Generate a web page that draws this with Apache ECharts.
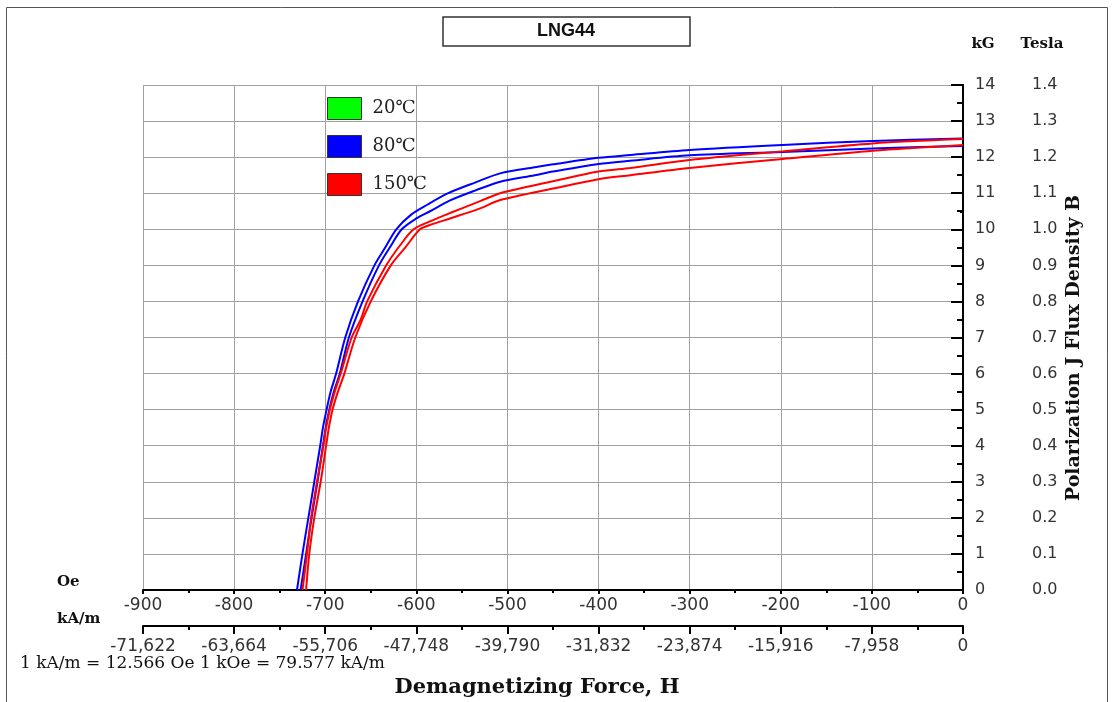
<!DOCTYPE html>
<html>
<head>
<meta charset="utf-8">
<script src="https://cdn.jsdelivr.net/npm/echarts@6/dist/echarts.min.js"></script>
<style>
  html, body { margin: 0; padding: 0; background: #fff; }
  #chart { width: 1114px; height: 702px; }
</style>
</head>
<body>
<div id="chart"></div>
<script>
// 图例名称
var legendNames = ['20℃', '80℃', '150℃'];
// kA/m 刻度标签 (第二条横轴)
var kamLabels = ['-71,622', '-63,664', '-55,706', '-47,748', '-39,790', '-31,832', '-23,874', '-15,916', '-7,958', '0'];

// 80℃ 上曲线 (J)
var hJ80 = [-731, -725, -718.5, -712, -705.5, -702.5, -698.5, -694, -688, -678, -664, -646, -634, -622, -606, -588, -565, -535, -508, -470, -450, -400, -365, -300, -198, -99, 0];
var bJ80 = [0, 1, 2, 3, 4, 4.5, 5, 5.5, 6, 7, 8, 9, 9.5, 10, 10.4, 10.68, 11.0, 11.3, 11.55, 11.72, 11.8, 11.98, 12.06, 12.2, 12.34, 12.45, 12.52];
// 80℃ 下曲线 (B)
var hB80 = [-727, -721, -715, -708.5, -702.5, -699.5, -695.5, -690.5, -684, -674, -659, -641, -629, -616, -600, -585, -563, -535, -508, -470, -450, -400, -365, -300, -198, -99, 0];
var bB80 = [0, 1, 2, 3, 4, 4.5, 5, 5.5, 6, 7, 8, 9, 9.5, 10, 10.3, 10.5, 10.8, 11.08, 11.32, 11.5, 11.6, 11.81, 11.9, 12.05, 12.14, 12.24, 12.31];
// 150℃ 上曲线 (J)
var hJ150 = [-725, -720, -715.5, -709, -702, -699, -695, -689.5, -683, -671, -661, -654, -633, -618, -603, -585, -563, -530, -508, -450, -400, -365, -300, -198, -99, 0];
var bJ150 = [0, 1, 2, 3, 4, 4.5, 5, 5.5, 6, 7, 7.5, 8, 9, 9.55, 10, 10.22, 10.45, 10.78, 11.0, 11.33, 11.6, 11.7, 11.92, 12.16, 12.38, 12.5];
// 150℃ 下曲线 (B)
var hB150 = [-721, -717.5, -712, -705, -699, -696, -692, -686, -679, -667, -650, -628, -612, -596, -585, -563, -530, -508, -450, -400, -365, -300, -198, -99, 0];
var bB150 = [0, 1, 2, 3, 4, 4.5, 5, 5.5, 6, 7, 8, 9, 9.5, 10, 10.12, 10.3, 10.58, 10.81, 11.13, 11.39, 11.5, 11.7, 11.95, 12.18, 12.34];

function pairs(h, b) {
    return h.map(function (x, i) { return [x, b[i]]; });
}

var serif = '"DejaVu Serif", "Liberation Serif", serif';
var sans = '"DejaVu Sans", "Liberation Sans", sans-serif';

var myChart = echarts.init(document.getElementById('chart'));

function curve(name, color, h, b) {
    return {
        name: name,
        type: 'line',
        symbol: 'none',
        smooth: 0.3,
        data: pairs(h, b),
        lineStyle: { color: color, width: 2 },
        itemStyle: { color: color }
    };
}

myChart.setOption({
    animation: false,
    grid: { left: 143, right: 151, top: 85, bottom: 112 },
    legend: {
        data: legendNames,
        orient: 'vertical',
        left: 322,
        top: 92,
        icon: 'rect',
        itemWidth: 34,
        itemHeight: 22,
        itemGap: 15,
        itemStyle: { borderColor: '#333', borderWidth: 1 },
        textStyle: { fontFamily: serif, fontSize: 18, color: '#222', padding: [0, 0, 0, 6] }
    },
    xAxis: [
        {
            type: 'value',
            min: -900, max: 0, interval: 100,
            position: 'bottom',
            axisLine: { onZero: false, lineStyle: { color: '#000', width: 2 } },
            axisTick: { length: 4, lineStyle: { color: '#000', width: 2 } },
            minorTick: { show: true, splitNumber: 2, length: 3, lineStyle: { color: '#000', width: 2 } },
            splitLine: { show: true, lineStyle: { color: '#a0a0a0', width: 1 } },
            axisLabel: { fontFamily: sans, fontSize: 17, color: '#333', margin: 7 }
        },
        {
            type: 'value',
            min: -900, max: 0, interval: 100,
            position: 'bottom',
            offset: 36,
            axisLine: { onZero: false, lineStyle: { color: '#000', width: 2 } },
            axisTick: { length: 8, lineStyle: { color: '#000', width: 2 } },
            minorTick: { show: true, splitNumber: 2, length: 4, lineStyle: { color: '#000', width: 2 } },
            splitLine: { show: false },
            axisLabel: {
                fontFamily: sans, fontSize: 17, color: '#333', margin: 12,
                formatter: function (v) { return kamLabels[Math.round((v + 900) / 100)]; }
            }
        }
    ],
    yAxis: [
        {
            type: 'value',
            min: 0, max: 14, interval: 1,
            position: 'right',
            axisLine: { show: true, lineStyle: { color: '#000', width: 2 } },
            axisTick: { show: true, inside: true, length: 5, lineStyle: { color: '#000', width: 2 } },
            minorTick: { show: true, splitNumber: 2, length: 3, lineStyle: { color: '#000', width: 2 } },
            splitLine: { show: true, lineStyle: { color: '#a0a0a0', width: 1 } },
            axisLabel: { fontFamily: sans, fontSize: 16, color: '#333', margin: 12 }
        },
        {
            type: 'value',
            min: 0, max: 1.4, interval: 0.1,
            position: 'right',
            offset: 57,
            axisLine: { show: true, lineStyle: { color: '#000', width: 2 } },
            axisTick: { show: true, inside: true, length: 12, lineStyle: { color: '#000', width: 2 } },
            minorTick: { show: true, splitNumber: 2, length: 6, lineStyle: { color: '#000', width: 2 } },
            splitLine: { show: false },
            axisLabel: {
                fontFamily: sans, fontSize: 16, color: '#333', margin: 12,
                formatter: function (v) { return v.toFixed(1); }
            }
        }
    ],
    series: [
        { name: '20℃', type: 'line', symbol: 'none', data: [], itemStyle: { color: '#00ff00' }, lineStyle: { color: '#00ff00', width: 2 } },
        curve('80℃', '#0000ff', hJ80, bJ80),
        curve('80℃', '#0000ff', hB80, bB80),
        curve('150℃', '#ff0000', hJ150, bJ150),
        curve('150℃', '#ff0000', hB150, bB150)
    ],
    graphic: [
        // 外框
        { type: 'rect', silent: true, shape: { x: 6.5, y: 7.5, width: 1101, height: 720 }, style: { fill: 'none', stroke: '#555', lineWidth: 1 } },
        // 标题框
        { type: 'rect', shape: { x: 443, y: 17, width: 247, height: 29 }, style: { fill: '#fff', stroke: '#333', lineWidth: 1.5 } },
        { type: 'text', x: 566, y: 31, style: { text: 'LNG44', font: 'bold 18px "Liberation Sans", Arial, sans-serif', fill: '#111', align: 'center', verticalAlign: 'middle' } },
        { type: 'text', x: 983, y: 44, style: { text: 'kG', font: 'bold 15px ' + serif, fill: '#111', align: 'center', verticalAlign: 'middle' } },
        { type: 'text', x: 1042, y: 44, style: { text: 'Tesla', font: 'bold 15px ' + serif, fill: '#111', align: 'center', verticalAlign: 'middle' } },
        { type: 'text', x: 57, y: 582, style: { text: 'Oe', font: 'bold 15px ' + serif, fill: '#111', verticalAlign: 'middle' } },
        { type: 'text', x: 57, y: 619, style: { text: 'kA/m', font: 'bold 15px ' + serif, fill: '#111', verticalAlign: 'middle' } },
        { type: 'text', x: 20, y: 664, style: { text: '1 kA/m = 12.566 Oe 1 kOe = 79.577 kA/m', font: '17px ' + serif, fill: '#111', verticalAlign: 'middle' } },
        { type: 'text', x: 537, y: 688, style: { text: 'Demagnetizing Force, H', font: 'bold 21px ' + serif, fill: '#111', align: 'center', verticalAlign: 'middle' } },
        { type: 'text', x: 1074, y: 348, rotation: Math.PI / 2, style: { text: 'Polarization J Flux Density B', font: 'bold 19px ' + serif, fill: '#111', align: 'center', verticalAlign: 'middle' } }
    ]
});
</script>
</body>
</html>
